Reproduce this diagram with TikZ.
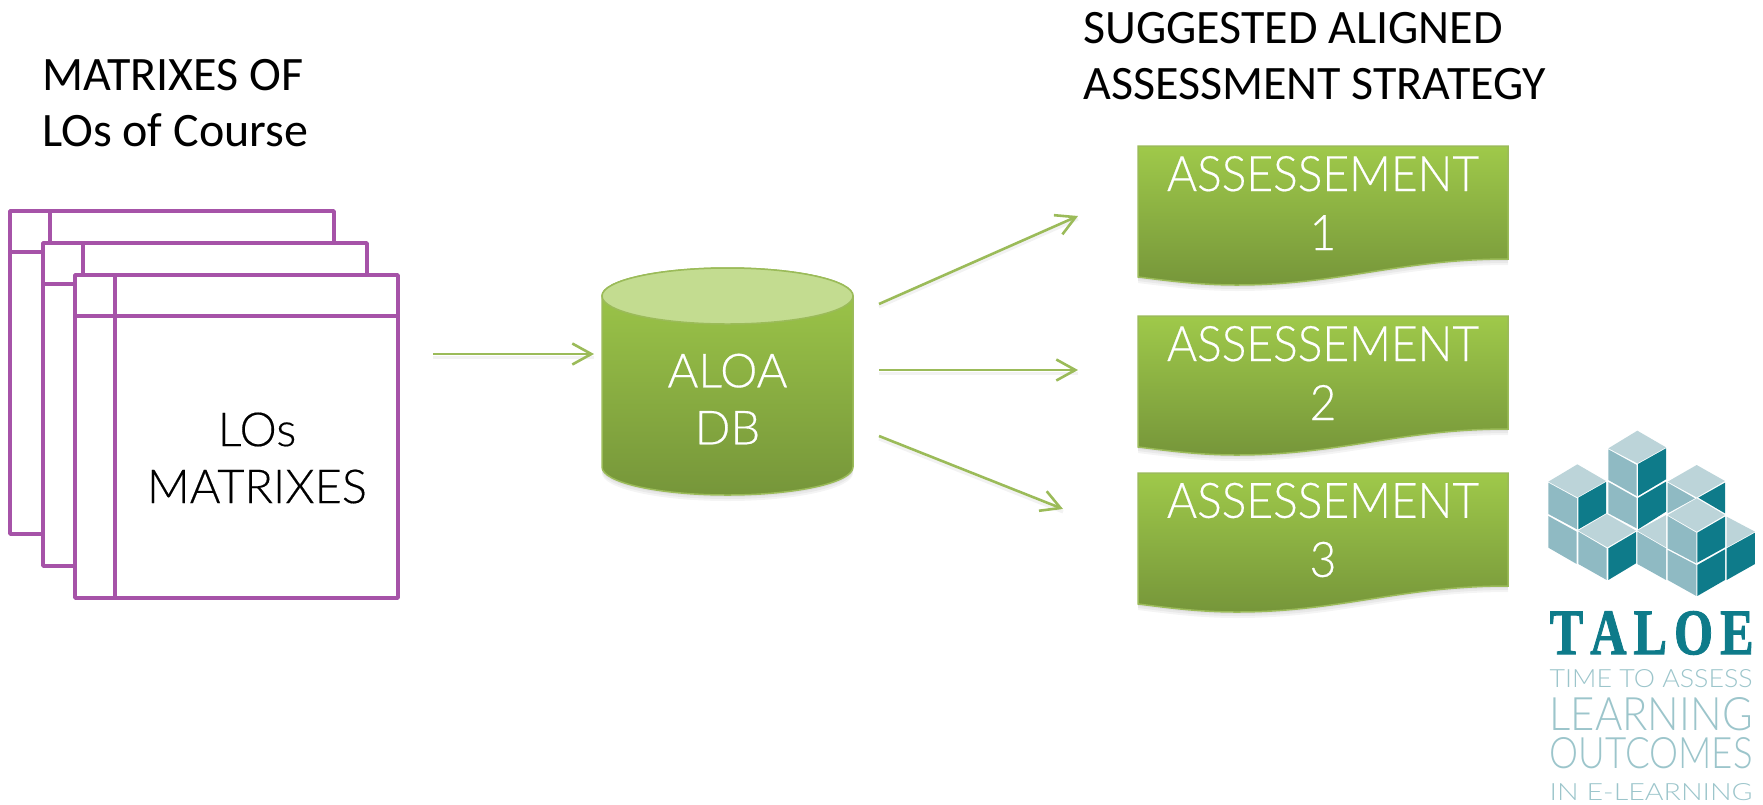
\documentclass[tikz,border=0pt]{standalone}
\usepackage{fontspec}
\usepackage{graphicx}
\usetikzlibrary{arrows.meta}
\setmainfont{Carlito}
\newfontfamily\thinfont{Lato Light}[FakeBold=0.35]
\newfontfamily\assfont{Lato Light}[FakeBold=0.35,FakeStretch=0.94]
\newfontfamily\logothin{Lato Light}
\newfontfamily\logoserif{Liberation Serif Bold}[FakeBold=1.5]
\definecolor{matpurple}{HTML}{A653A8}
\definecolor{gtop}{HTML}{9FC94A}
\definecolor{gbot}{HTML}{76963A}
\definecolor{gline}{HTML}{9BBB59}
\definecolor{gcap}{HTML}{C3DC90}
\definecolor{ltop}{HTML}{BCD4D9}
\definecolor{lleft}{HTML}{8FBAC3}
\definecolor{lright}{HTML}{0E7B8A}
\definecolor{ltext}{HTML}{9CC5CB}
\tikzset{
  matline/.style={draw=matpurple,line width=3.5pt,line join=round},
  matbox/.style={matline,fill=white},
  heading/.style={font=\fontsize{48}{56}\selectfont,align=left,anchor=west,inner sep=0pt,text=black},
  whitelabel/.style={font=\thinfont\fontsize{47}{57}\selectfont,align=center,text=white,inner sep=0pt},
  asslabel/.style={font=\assfont\fontsize{49}{59}\selectfont,align=center,text=white,inner sep=0pt},
  blacklabel/.style={font=\thinfont\fontsize{47}{57}\selectfont,align=center,text=black,inner sep=0pt},
  flow/.style={draw=gline,line width=2.6pt,-{Straight Barb[length=19pt,width=21pt]}},
  flowshadow/.style={draw=black,opacity=.05,line width=3pt},
  greenshape/.style={draw=gline,line width=1.5pt,top color=gtop,bottom color=gbot},
  softshadow/.style={fill=black,opacity=.045,draw=none},
  lt/.style={fill=ltop,draw=none},
  ll/.style={fill=lleft,draw=none},
  lr/.style={fill=lright,draw=none},
  logotext/.style={text=ltext,inner sep=0pt,anchor=south west},
}
\newcommand{\matrixsheet}[4]{%
  \draw[matbox] (#1,#2) rectangle (#3,#4);
  \draw[matline] (#1+40,#2) -- (#1+40,#4);
  \draw[matline] (#1,#2+41) -- (#3,#2+41);
}
\newcommand{\docshape}[1]{%
  \foreach \s in {2,4,6}{
    \fill[softshadow] (1138,#1+\s) -- (1508,#1+\s) -- (1508,#1+113+\s)
      .. controls (1400,#1+113+\s) and (1340,#1+139+\s) .. (1237,#1+139+\s)
      .. controls (1200,#1+139+\s) and (1170,#1+135+\s) .. (1138,#1+131+\s) -- cycle;
  }
  \path[greenshape] (1138,#1) -- (1508,#1) -- (1508,#1+113)
      .. controls (1400,#1+113) and (1340,#1+139) .. (1237,#1+139)
      .. controls (1200,#1+139) and (1170,#1+135) .. (1138,#1+131) -- cycle;
}
\begin{document}
\begin{tikzpicture}[x=1pt,y=-1pt]
\useasboundingbox (0,0) rectangle (1763,804);

% headings
\node[heading] (headleft) at (42,103) {MATRIXES OF\\LOs of Course};
\node[heading] (headright) at (1083,56) {SUGGESTED ALIGNED\\ASSESSMENT STRATEGY};

% stacked matrices
\matrixsheet{10}{211}{334}{534}
\matrixsheet{43}{243}{367}{566}
\matrixsheet{75}{275}{398}{598}
\node[blacklabel] (matlabel) at (257,458) {LOs\\MATRIXES};

% database cylinder
\foreach \s in {2,4,6}{
  \fill[softshadow] (602,296+\s) -- (602,467+\s) arc[start angle=180,end angle=0,x radius=125.5,y radius=28] -- (853,296+\s) -- cycle;
}
\path[greenshape] (602,296) -- (602,467) arc[start angle=180,end angle=0,x radius=125.5,y radius=28] -- (853,296) arc[start angle=0,end angle=-180,x radius=125.5,y radius=28] -- cycle;
\path[draw=gline,line width=1.5pt,fill=gcap] (727.5,296) ellipse[x radius=125.5,y radius=28];
\node[whitelabel] (db) at (727.5,399) {ALOA\\DB};

% documents
\docshape{146}
\docshape{316}
\docshape{473}
\node[asslabel] (as1) at (1323,203) {ASSESSEMENT\\1};
\node[asslabel] (as2) at (1323,373) {ASSESSEMENT\\2};
\node[asslabel] (as3) at (1323,530) {ASSESSEMENT\\3};

% connector ends
\coordinate (inS) at (433,354);
\coordinate (inE) at (594,354);
\coordinate (o1S) at (879,304);
\coordinate (o1E) at (1078,216);
\coordinate (o2S) at (879,370);
\coordinate (o2E) at (1078,370);
\coordinate (o3S) at (879,436);
\coordinate (o3E) at (1063,509);
\draw[flowshadow] ([yshift=-3pt]inS) -- ([yshift=-3pt]inE);
\draw[flowshadow] ([yshift=-3pt]o1S) -- ([yshift=-3pt]o1E);
\draw[flowshadow] ([yshift=-3pt]o2S) -- ([yshift=-3pt]o2E);
\draw[flowshadow] ([yshift=-3pt]o3S) -- ([yshift=-3pt]o3E);
\draw[flow] (inS) -- (inE);
\draw[flow] (o1S) -- (o1E);
\draw[flow] (o2S) -- (o2E);
\draw[flow] (o3S) -- (o3E);

% TALOE logo
\begin{scope}[shift={(1500,410)},x=0.3333pt,y=-0.3333pt]
\fill[lt] (325,115)--(412,62)--(498,112)--(412,160)--cycle;
\fill[ll] (325,118)--(410,165)--(410,258)--(325,210)--cycle;
\fill[lr] (414,162)--(498,115)--(498,208)--(414,258)--cycle;
\fill[ll] (325,216)--(410,264)--(410,355)--(325,310)--cycle;
\fill[lr] (414,264)--(498,215)--(498,305)--(414,358)--cycle;
\fill[lt] (145,215)--(232,163)--(318,213)--(232,262)--cycle;
\fill[ll] (145,218)--(231,265)--(231,358)--(145,312)--cycle;
\fill[lr] (235,263)--(318,216)--(318,310)--(235,358)--cycle;
\fill[ll] (145,318)--(230,365)--(230,462)--(145,413)--cycle;
\fill[lt] (235,362)--(320,312)--(408,362)--(322,412)--cycle;
\fill[ll] (235,365)--(320,415)--(320,510)--(235,462)--cycle;
\fill[lr] (325,415)--(408,366)--(408,460)--(325,510)--cycle;
\fill[lt] (503,215)--(590,165)--(675,213)--(590,262)--cycle;
\fill[ll] (503,218)--(585,265)--(503,310)--cycle;
\fill[lr] (595,263)--(675,218)--(675,310)--cycle;
\fill[lt] (412,362)--(498,315)--(498,412)--cycle;
\fill[ll] (412,365)--(498,415)--(498,510)--(412,462)--cycle;
\fill[lt] (503,315)--(590,265)--(675,315)--(590,365)--cycle;
\fill[ll] (503,318)--(589,368)--(589,460)--(503,415)--cycle;
\fill[lr] (592,368)--(675,320)--(675,412)--(592,458)--cycle;
\fill[ll] (503,420)--(589,465)--(589,558)--(503,510)--cycle;
\fill[lr] (592,465)--(675,418)--(675,510)--(592,558)--cycle;
\fill[lt] (680,320)--(765,365)--(680,412)--cycle;
\fill[lr] (680,415)--(765,368)--(765,462)--(680,510)--cycle;
\end{scope}
\node[logotext,text=lright] (taloe) at (1549.5,655) {\resizebox{204pt}{43pt}{\logoserif T\hspace{0.14em}A\hspace{0.14em}L\hspace{0.14em}O\hspace{0.14em}E}};
\node[logotext] (logo1) at (1549.5,688) {\resizebox{203pt}{18pt}{\logothin TIME TO ASSESS}};
\node[logotext] (logo2) at (1549.5,731.5) {\resizebox{203pt}{33pt}{\logothin LEARNING}};
\node[logotext] (logo3) at (1549.5,769) {\resizebox{203pt}{31pt}{\logothin OUTCOMES}};
\node[logotext] (logo4) at (1549.5,801) {\resizebox{203pt}{17pt}{\logothin IN E-LEARNING}};
\end{tikzpicture}
\end{document}
